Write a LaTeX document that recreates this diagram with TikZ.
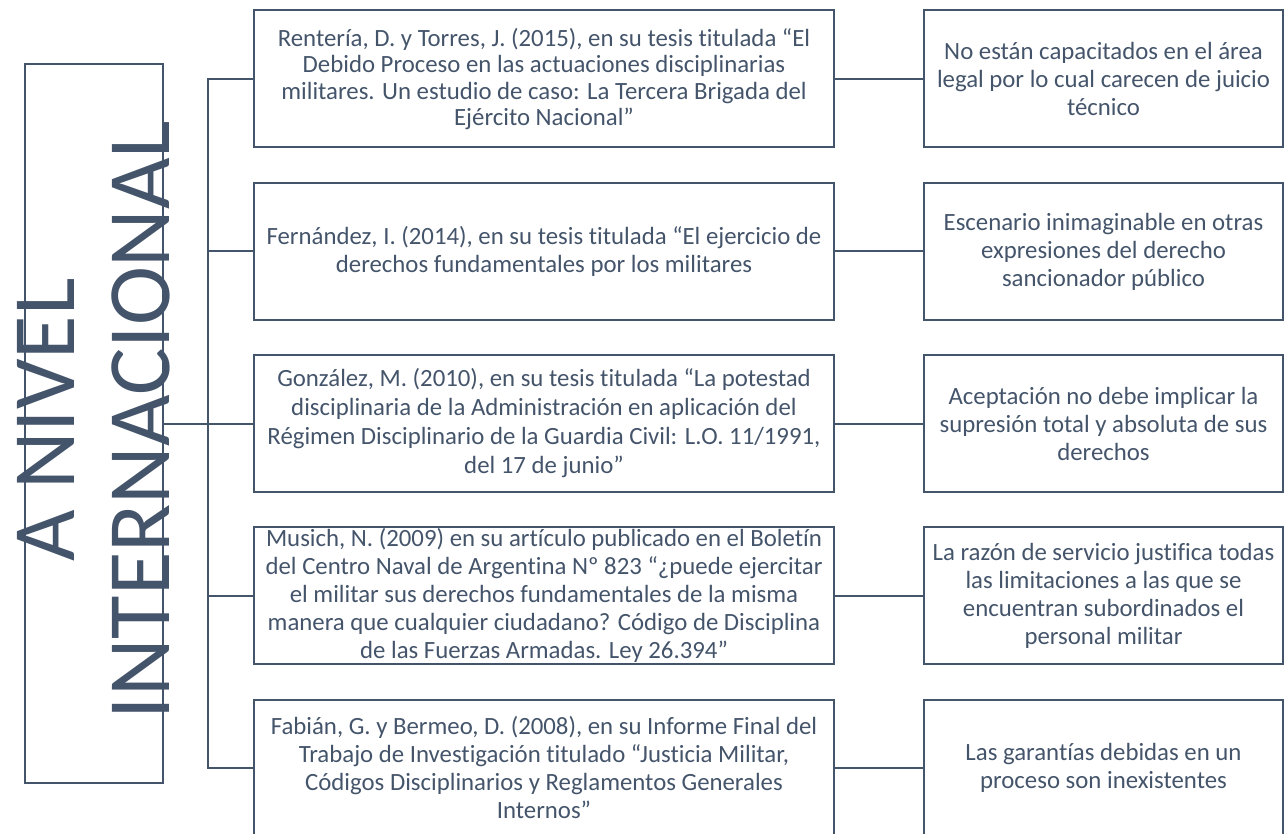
\documentclass[tikz,border=0pt]{standalone}
\usepackage{fontspec}
\setmainfont[RawFeature={-liga;-calt;-clig;-dlig}]{Carlito}
\definecolor{slate}{HTML}{44546A}
\begin{document}
\begin{tikzpicture}[x=1pt,y=-1pt,
  every node/.style={text=slate},
  midbox/.style={draw=slate, line width=2pt, minimum width=580pt, minimum height=137pt, inner sep=0pt, align=center, font=\fontsize{24.8}{28}\selectfont},
  rbox/.style={draw=slate, line width=2pt, minimum width=359pt, minimum height=137pt, inner sep=0pt, align=center, font=\fontsize{24.8}{28}\selectfont},
  link/.style={draw=slate, line width=2pt}]
\useasboundingbox (0,0) rectangle (1288,834);
% left box
\node[draw=slate, line width=2pt, minimum width=138pt, minimum height=719pt, inner sep=0pt] (lbox) at (94,423.5) {};
\node[rotate=90, align=center, inner sep=0pt, font=\fontsize{89}{95}\selectfont] (title) at (94,420) {A NIVEL\\INTERNACIONAL};
% middle boxes
\node[midbox, font=\fontsize{24.8}{26.5}\selectfont] (m1) at (544,79) {Rentería, D. y Torres, J. (2015), en su tesis titulada “El\\Debido Proceso en las actuaciones disciplinarias\\militares. Un estudio de caso: La Tercera Brigada del\\Ejército Nacional”};
\node[midbox] (m2) at (544,251.5) {Fernández, I. (2014), en su tesis titulada “El ejercicio de\\derechos fundamentales por los militares};
\node[midbox, font=\fontsize{24.8}{29}\selectfont] (m3) at (544,423.5) {González, M. (2010), en su tesis titulada “La potestad\\disciplinaria de la Administración en aplicación del\\Régimen Disciplinario de la Guardia Civil: L.O. 11/1991,\\del 17 de junio”};
\node[midbox] (m4) at (544,595.5) {Musich, N. (2009) en su artículo publicado en el Boletín\\del Centro Naval de Argentina Nº 823 “¿puede ejercitar\\el militar sus derechos fundamentales de la misma\\manera que cualquier ciudadano? Código de Disciplina\\de las Fuerzas Armadas. Ley 26.394”};
\node[midbox] (m5) at (544,768) {Fabián, G. y Bermeo, D. (2008), en su Informe Final del\\Trabajo de Investigación titulado “Justicia Militar,\\Códigos Disciplinarios y Reglamentos Generales\\Internos”};
% right boxes
\node[rbox] (r1) at (1103.5,79) {No están capacitados en el área\\legal por lo cual carecen de juicio\\técnico};
\node[rbox] (r2) at (1103.5,251.5) {Escenario inimaginable en otras\\expresiones del derecho\\sancionador público};
\node[rbox] (r3) at (1103.5,423.5) {Aceptación no debe implicar la\\supresión total y absoluta de sus\\derechos};
\node[rbox] (r4) at (1103.5,595.5) {La razón de servicio justifica todas\\las limitaciones a las que se\\encuentran subordinados el\\personal militar};
\node[rbox] (r5) at (1103.5,768) {Las garantías debidas en un\\proceso son inexistentes};
% connectors
\coordinate (bb) at (208,768);
\draw[link] (lbox.east) -- (m3.west);
\draw[link] (m1.west) -| (bb) -- (m5.west);
\draw[link] (m2.west) -- (m2.west -| bb);
\draw[link] (m4.west) -- (m4.west -| bb);
\foreach \i in {1,...,5} {\draw[link] (m\i.east) -- (r\i.west);}
\end{tikzpicture}
\end{document}
